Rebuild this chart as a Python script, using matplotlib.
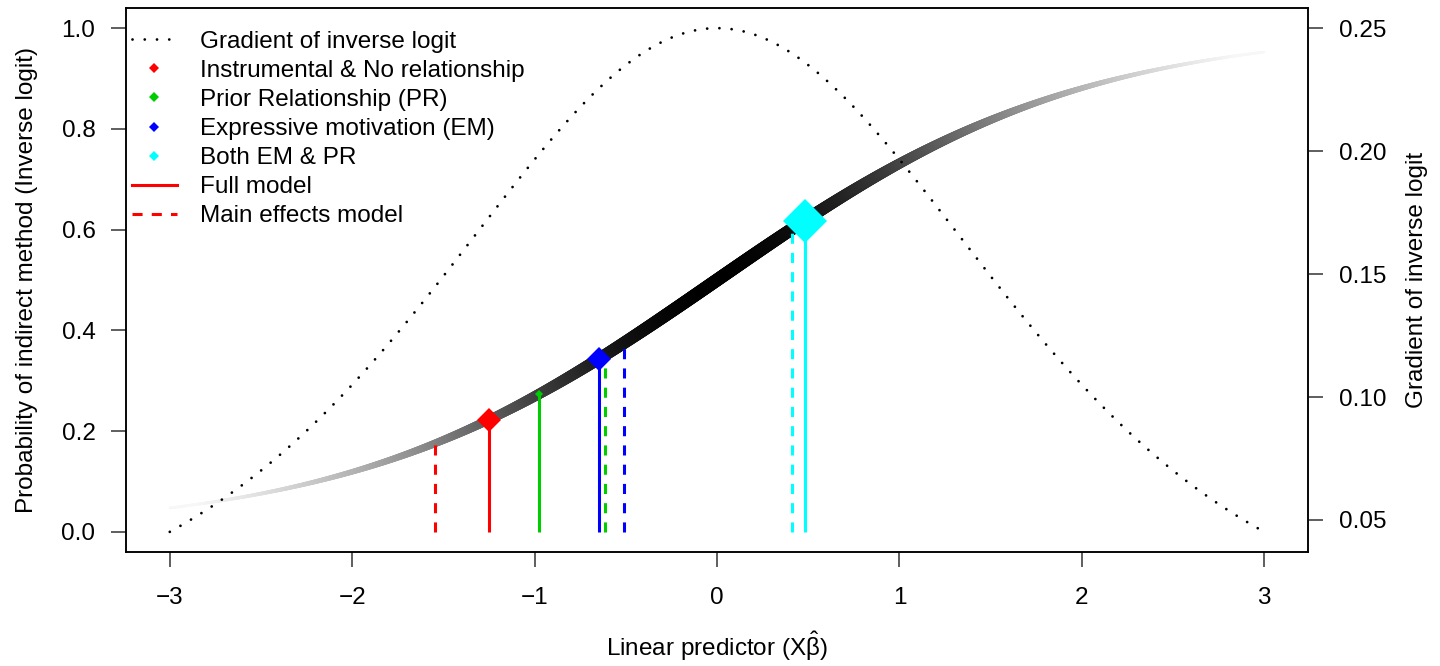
import numpy as np
import matplotlib
matplotlib.use("Agg")
import matplotlib.pyplot as plt
from matplotlib.collections import LineCollection
from matplotlib.lines import Line2D

plt.rcParams['font.family'] = ['Liberation Sans', 'DejaVu Sans']
plt.rcParams['mathtext.fontset'] = 'custom'
plt.rcParams['mathtext.rm'] = 'Liberation Sans'
plt.rcParams['mathtext.it'] = 'Liberation Sans'
plt.rcParams['mathtext.bf'] = 'Liberation Sans:bold'
plt.rcParams['font.size'] = 17.5

# --- data ---
groups = ['Instrumental & No relationship', 'Prior Relationship (PR)',
          'Expressive motivation (EM)', 'Both EM & PR']
group_colors = ['#FF0000', '#00CD00', '#0000FF', '#00FFFF']
full_xb = [-1.25, -0.975, -0.645, 0.48]       # full model linear predictor
main_xb = [-1.545, -0.615, -0.51, 0.41]       # main effects model linear predictor
marker_ms = [11.8, 4.2, 11.8, 22.0]           # diamond sizes per group

x_lo, x_hi = -3, 3
left_ticks = [0.0, 0.2, 0.4, 0.6, 0.8, 1.0]
right_ticks = [0.05, 0.10, 0.15, 0.20, 0.25]
x_ticks = [-3, -2, -1, 0, 1, 2, 3]


def inv_logit(z):
    return 1.0 / (1.0 + np.exp(-np.asarray(z, dtype=float)))


def grad_inv_logit(z):
    p = inv_logit(z)
    return p * (1 - p)


xs = np.linspace(x_lo, x_hi, 1200)
ps = inv_logit(xs)
gs = grad_inv_logit(xs)
g_min, g_max = gs.min(), gs.max()

fig = plt.figure(figsize=(14.4, 6.66), dpi=100)
ax = fig.add_axes([126 / 1440, 1 - 552 / 666, 1182 / 1440, 544 / 666])
ax2 = ax.twinx()

# inverse logit curve: width and darkness follow the gradient
pts = np.column_stack([xs, ps]).reshape(-1, 1, 2)
segs = np.concatenate([pts[:-1], pts[1:]], axis=1)
gmid = 0.5 * (gs[:-1] + gs[1:])
shade = np.clip((g_max - gmid) / (g_max - g_min), 0, 0.97)
lc = LineCollection(segs, colors=[(s, s, s) for s in shade],
                    linewidths=9.4 * gmid / g_max, capstyle='round', zorder=2)
ax.add_collection(lc)

# vertical lines from zero to the curve
for xf, xm, col in zip(full_xb, main_xb, group_colors):
    ax.plot([xf, xf], [0, inv_logit(xf)], color=col, lw=2.2, zorder=3,
            solid_capstyle='butt')
    ax.plot([xm, xm], [0, inv_logit(xm)], color=col, lw=2.2, zorder=3,
            linestyle=(0, (3.3, 3.0)), dash_capstyle='butt')

for xf, col, ms in zip(full_xb, group_colors, marker_ms):
    ax.plot([xf], [inv_logit(xf)], marker='D', ms=ms, color=col,
            markeredgewidth=0, linestyle='none', zorder=4)

ax.set_xlim(x_lo - 0.04 * (x_hi - x_lo), x_hi + 0.04 * (x_hi - x_lo))
ax.set_ylim(-0.04, 1.04)

# gradient of the inverse logit on the right axis
dot_style = (0, (0.01, 4.4))
ax2.plot(xs, gs, color='black', lw=2.0, linestyle=dot_style,
         dash_capstyle='round')
pad = 0.04 * (g_max - g_min)
ax2.set_ylim(g_min - pad, g_max + pad)

ax.set_xticks(x_ticks)
ax.set_xticklabels([f'{t:d}'.replace('-', '\u2212') for t in x_ticks])
ax.set_yticks(left_ticks)
ax.set_yticklabels([f'{t:.1f}' for t in left_ticks])
ax2.set_yticks(right_ticks)
ax2.set_yticklabels([f'{t:.2f}' for t in right_ticks])

for a in (ax, ax2):
    a.tick_params(direction='out', length=11, width=1.1, pad=11,
                  labelsize=17.5, color='#333333')
    for sp in a.spines.values():
        sp.set_linewidth(1.1)
ax.tick_params(axis='x', pad=14)

ax.set_xlabel(r'Linear predictor ($\mathrm{X}\hat{\beta}$)', labelpad=15)
ax.set_ylabel('Probability of indirect method (Inverse logit)', labelpad=17)
ax2.set_ylabel('Gradient of inverse logit', labelpad=14)

handles = [Line2D([], [], color='black', lw=2.0, linestyle=dot_style,
                  dash_capstyle='round')]
for col in group_colors:
    handles.append(Line2D([], [], marker='D', ms=5.2, color=col,
                          markeredgewidth=0, linestyle='none'))
handles.append(Line2D([], [], color='red', lw=2.2))
handles.append(Line2D([], [], color='red', lw=2.2, linestyle=(0, (3.3, 3.0))))
labels = ['Gradient of inverse logit'] + groups + ['Full model', 'Main effects model']
ax2.legend(handles, labels, loc='upper left', bbox_to_anchor=(0.005, 0.958),
           frameon=False, borderpad=0, borderaxespad=0, handlelength=1.85,
           handletextpad=0.95, labelspacing=0.29, fontsize=17.5)

fig.savefig('out.png', dpi=100)
